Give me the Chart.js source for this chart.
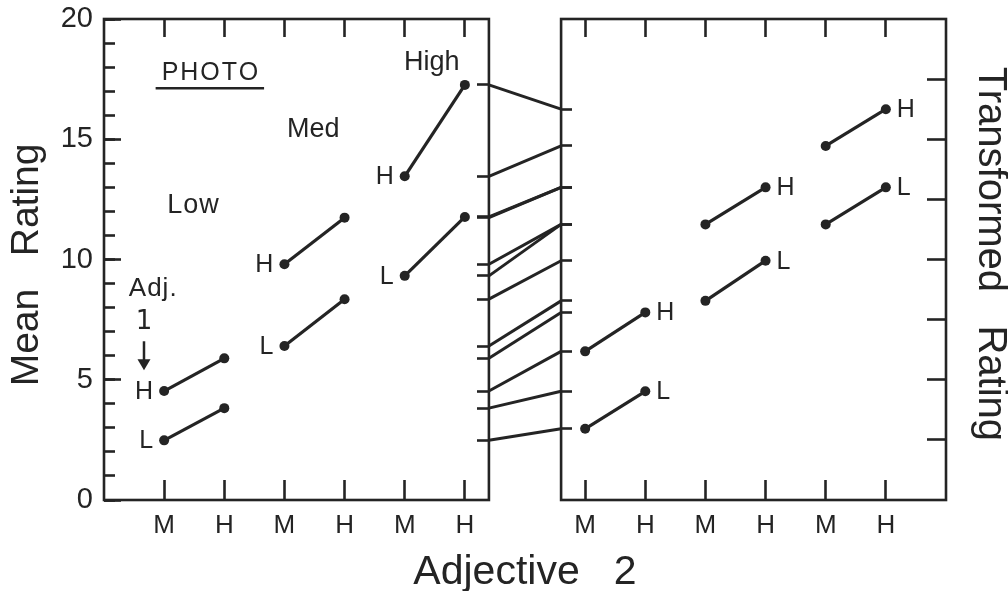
<!DOCTYPE html>
<html>
<head>
<meta charset="utf-8">
<script src="https://cdn.jsdelivr.net/npm/chart.js@4.4.1/dist/chart.umd.min.js"></script>
<style>
  html, body { margin: 0; padding: 0; background: #fff; }
  #wrap { width: 1008px; height: 591px; }
</style>
</head>
<body>
<div id="wrap"><canvas id="ratingChart" width="1008" height="591"></canvas></div>
<script>
const family = "'Liberation Sans', Arial, sans-serif";
const ink = '#242424';

// --- Data ---
// each series runs Low photo (M, H), Med photo (M, H), High photo (M, H)
const photoLevels = ['Low', 'Med', 'High'];
const adj2Labels = ['M', 'H', 'M', 'H', 'M', 'H'];
const meanAdj1L = [2.48, 3.82, 6.40, 8.35, 9.32, 11.77];
const meanAdj1H = [4.53, 5.89, 9.80, 11.74, 13.46, 17.26];
const transAdj1L = [2.96, 4.52, 8.28, 9.95, 11.46, 13.00];
const transAdj1H = [6.18, 7.80, 11.46, 13.00, 14.72, 16.25];
const meanTicks = [0, 5, 10, 15, 20];
const transTicks = [2.5, 5, 7.5, 10, 12.5, 15, 17.5];
const leftSlots = [1, 2, 3, 4, 5, 6];
const rightSlots = [8, 9, 10, 11, 12, 13];

// panel extents along the shared x scale
const leftPanel = [0, 6.4];
const rightPanel = [7.6, 14];

// --- Datasets ---
function pairSegments(values, slots, tag, side) {
    const out = [];
    for (let g = 0; g < photoLevels.length; g++) {
        const i = g * 2;
        out.push({
            data: [{ x: slots[i], y: values[i] }, { x: slots[i + 1], y: values[i + 1] }],
            tag: tag,
            tagSide: side,
            borderColor: ink,
            backgroundColor: ink,
            borderWidth: 3.2,
            pointRadius: 5,
            pointBorderWidth: 0,
            pointHoverRadius: 5,
            xAxisID: 'x',
            yAxisID: 'y'
        });
    }
    return out;
}

function connectors(from, to) {
    return from.map((v, i) => ({
        data: [{ x: leftPanel[1], y: v }, { x: rightPanel[0], y: to[i] }],
        borderColor: ink,
        borderWidth: 3,
        pointRadius: 0,
        pointHoverRadius: 0,
        xAxisID: 'x',
        yAxisID: 'y'
    }));
}

const datasets = [
    ...pairSegments(meanAdj1L, leftSlots, 'L', 'left'),
    ...pairSegments(meanAdj1H, leftSlots, 'H', 'left'),
    ...pairSegments(transAdj1L, rightSlots, 'L', 'right'),
    ...pairSegments(transAdj1H, rightSlots, 'H', 'right'),
    ...connectors(meanAdj1L, transAdj1L),
    ...connectors(meanAdj1H, transAdj1H)
];

// --- Plugins ---
// box outline around each panel
const panelFrames = {
    id: 'panelFrames',
    beforeDatasetsDraw(chart) {
        const { ctx, chartArea } = chart;
        const x = chart.scales.x;
        ctx.save();
        ctx.strokeStyle = ink;
        ctx.lineWidth = 2.6;
        [leftPanel, rightPanel].forEach(p => {
            const x0 = x.getPixelForValue(p[0]);
            const x1 = x.getPixelForValue(p[1]);
            ctx.strokeRect(x0, chartArea.top, x1 - x0, chartArea.bottom - chartArea.top);
        });
        ctx.restore();
    }
};

// text notes inside the left panel, placed in data units
const notes = [
    { text: 'PHOTO', x: 1.76, y: 17.74, size: 25, spacing: 2, underline: true },
    { text: photoLevels[0], x: 1.48, y: 12.24, size: 27, spacing: 1 },
    { text: photoLevels[1], x: 3.48, y: 15.39, size: 27, spacing: 0 },
    { text: photoLevels[2], x: 5.45, y: 18.2, size: 27, spacing: 0 },
    { text: 'Adj.', x: 0.81, y: 8.8, size: 26, spacing: 1 },
    { text: '1', x: 0.665, y: 7.39, size: 26, spacing: 0, font: "'DejaVu Sans', sans-serif" }
];
const arrowNote = { x: 0.665, from: 6.6, to: 5.39 };

const annotations = {
    id: 'annotations',
    afterDatasetsDraw(chart) {
        const ctx = chart.ctx;
        const sx = chart.scales.x;
        const sy = chart.scales.y;
        ctx.save();
        ctx.fillStyle = ink;
        ctx.strokeStyle = ink;
        ctx.textBaseline = 'middle';

        // H / L labels for the Adjective 1 level of each segment
        ctx.font = `25px ${family}`;
        chart.data.datasets.forEach((ds, i) => {
            if (!ds.tag) return;
            const pts = chart.getDatasetMeta(i).data;
            if (ds.tagSide === 'left') {
                ctx.textAlign = 'right';
                ctx.fillText(ds.tag, pts[0].x - 11, pts[0].y + 1);
            } else {
                ctx.textAlign = 'left';
                ctx.fillText(ds.tag, pts[1].x + 11, pts[1].y + 1);
            }
        });

        ctx.textAlign = 'center';
        notes.forEach(n => {
            ctx.font = `${n.size}px ${n.font || family}`;
            if ('letterSpacing' in ctx) ctx.letterSpacing = n.spacing + 'px';
            const px = sx.getPixelForValue(n.x);
            const py = sy.getPixelForValue(n.y);
            ctx.fillText(n.text, px + n.spacing / 2, py);
            if (n.underline) {
                const w = ctx.measureText(n.text).width;
                ctx.lineWidth = 2.5;
                ctx.beginPath();
                ctx.moveTo(px - w / 2 - 5, py + 15);
                ctx.lineTo(px + w / 2 + 5, py + 15);
                ctx.stroke();
            }
        });
        if ('letterSpacing' in ctx) ctx.letterSpacing = '0px';

        // downward arrow under "1"
        const ax = sx.getPixelForValue(arrowNote.x);
        const ay0 = sy.getPixelForValue(arrowNote.from);
        const ay1 = sy.getPixelForValue(arrowNote.to);
        ctx.lineWidth = 2.5;
        ctx.beginPath();
        ctx.moveTo(ax, ay0);
        ctx.lineTo(ax, ay1 - 8);
        ctx.stroke();
        ctx.beginPath();
        ctx.moveTo(ax - 6.5, ay1 - 11);
        ctx.lineTo(ax + 6.5, ay1 - 11);
        ctx.lineTo(ax, ay1);
        ctx.closePath();
        ctx.fill();

        ctx.restore();
    }
};

// --- Scales ---
const tickGrid = (len) => ({
    drawOnChartArea: false,
    drawTicks: true,
    tickLength: len,
    tickWidth: 2.6,
    tickColor: ink
});

const slotTicks = scale => {
    scale.ticks = leftSlots.concat(rightSlots).map(v => ({ value: v }));
};

// fixed box size, and no extra room asked for by the tick labels
const fixWidth = w => s => {
    s.width = w;
    s.paddingTop = 0;
    s.paddingBottom = 0;
};
const fixHeight = h => s => {
    s.height = h;
    s.paddingLeft = 0;
    s.paddingRight = 0;
};

const scales = {
    x: {
        type: 'linear', axis: 'x', position: 'bottom', min: 0, max: 14,
        afterBuildTicks: slotTicks,
        afterFit: fixHeight(91),
        grid: tickGrid(-20),
        border: { display: false },
        ticks: {
            autoSkip: false, maxRotation: 0, padding: 30, color: ink,
            font: { family: family, size: 26 },
            callback: (v, i) => adj2Labels[i % adj2Labels.length]
        },
        title: {
            display: true, text: 'Adjective   2', color: ink,
            font: { family: family, size: 41, lineHeight: 0.8 },
            padding: { top: 0, bottom: 1.5 }
        }
    },
    xTop: {
        type: 'linear', axis: 'x', position: 'top', min: 0, max: 14,
        afterBuildTicks: slotTicks,
        afterFit: fixHeight(19),
        grid: tickGrid(-18),
        border: { display: false },
        ticks: { display: false }
    },
    y: {
        type: 'linear', axis: 'y', position: 'left', min: 0, max: 20, weight: 2,
        afterBuildTicks: s => { s.ticks = meanTicks.map(v => ({ value: v })); },
        afterFit: fixWidth(104),
        grid: tickGrid(-17),
        border: { display: false },
        ticks: { padding: 28, color: ink, font: { family: family, size: 29 } },
        title: {
            display: true, text: 'Mean   Rating ', color: ink,
            font: { family: family, size: 39, lineHeight: 0.8 },
            padding: { top: 12, bottom: 0 }
        }
    },
    yMinor: {
        type: 'linear', axis: 'y', position: 'left', min: 0, max: 20, weight: 1,
        afterFit: fixWidth(0),
        grid: tickGrid(-11),
        border: { display: false },
        ticks: { display: false, stepSize: 1 }
    },
    yT: {
        type: 'linear', axis: 'y', position: 'right', min: 0, max: 20,
        afterBuildTicks: s => { s.ticks = transTicks.map(v => ({ value: v })); },
        afterFit: fixWidth(62),
        grid: tickGrid(-19),
        border: { display: false },
        ticks: { display: false },
        title: {
            display: true, text: 'Transformed   Rating ', color: ink,
            font: { family: family, size: 40, lineHeight: 0.8 },
            padding: { top: 1.5, bottom: 0 }
        }
    },
    // short marks where the connecting lines meet the inner panel edges
    yEdgeL: {
        type: 'linear', axis: 'y', position: { x: leftPanel[1] }, min: 0, max: 20,
        afterBuildTicks: s => { s.ticks = meanAdj1L.concat(meanAdj1H).map(v => ({ value: v })); },
        grid: tickGrid(12),
        border: { display: false },
        ticks: { display: false }
    },
    yEdgeR: {
        type: 'linear', axis: 'y', position: { x: rightPanel[0] }, min: 0, max: 20,
        afterBuildTicks: s => { s.ticks = transAdj1L.concat(transAdj1H).map(v => ({ value: v })); },
        grid: tickGrid(-11),
        border: { display: false },
        ticks: { display: false }
    }
};

// --- Chart ---
new Chart(document.getElementById('ratingChart'), {
    type: 'line',
    data: { datasets: datasets },
    options: {
        responsive: false,
        animation: false,
        events: [],
        layout: { padding: 0 },
        scales: scales,
        plugins: {
            legend: { display: false },
            tooltip: { enabled: false }
        }
    },
    plugins: [panelFrames, annotations]
});
</script>
</body>
</html>
